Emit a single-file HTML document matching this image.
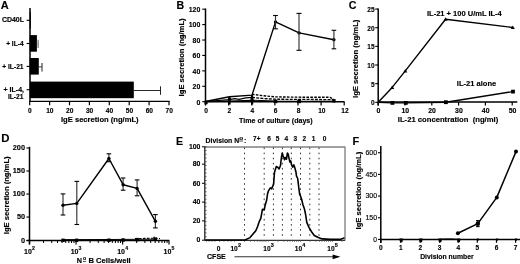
<!DOCTYPE html>
<html><head><meta charset="utf-8"><style>
html,body{margin:0;padding:0;background:#fff;overflow:hidden;width:520px;height:264px;}
svg{display:block;will-change:transform;}
text{font-family:"Liberation Sans", sans-serif;stroke:#000;stroke-width:0.14px;white-space:pre;}
</style></head><body>
<svg width="520" height="264" viewBox="0 0 520 264">
<rect width="520" height="264" fill="#fff"/>
<text x="0.80" y="9.30" font-size="11.0" font-weight="bold" text-anchor="start" fill="#000">A</text>
<text x="24.00" y="22.20" font-size="6.8" font-weight="bold" text-anchor="end" fill="#000" textLength="22.10" lengthAdjust="spacingAndGlyphs">CD40L</text>
<text x="23.60" y="45.90" font-size="6.7" font-weight="bold" text-anchor="end" fill="#000" textLength="17.40" lengthAdjust="spacingAndGlyphs">+ IL-4</text>
<text x="23.60" y="68.80" font-size="6.7" font-weight="bold" text-anchor="end" fill="#000" textLength="21.40" lengthAdjust="spacingAndGlyphs">+ IL-21</text>
<text x="24.00" y="92.20" font-size="6.5" font-weight="bold" text-anchor="end" fill="#000" textLength="20.40" lengthAdjust="spacingAndGlyphs">+ IL-4,</text>
<text x="23.50" y="98.80" font-size="6.5" font-weight="bold" text-anchor="end" fill="#000" textLength="15.60" lengthAdjust="spacingAndGlyphs">IL-21</text>
<rect x="29.80" y="12.00" width="1.00" height="16.60" fill="#000"/>
<rect x="29.80" y="35.10" width="7.10" height="16.60" fill="#000"/>
<rect x="29.80" y="58.00" width="9.00" height="16.60" fill="#000"/>
<rect x="29.80" y="81.60" width="104.00" height="16.60" fill="#000"/>
<line x1="36.90" y1="43.90" x2="38.30" y2="43.90" stroke="#777" stroke-width="0.9"/>
<line x1="38.20" y1="39.80" x2="38.20" y2="48.00" stroke="#999" stroke-width="1.6"/>
<line x1="38.80" y1="66.90" x2="42.00" y2="66.90" stroke="#222" stroke-width="0.9"/>
<line x1="42.00" y1="63.00" x2="42.00" y2="71.40" stroke="#444" stroke-width="1.2"/>
<line x1="133.80" y1="90.50" x2="160.50" y2="90.50" stroke="#111" stroke-width="0.9"/>
<line x1="160.50" y1="86.30" x2="160.50" y2="94.80" stroke="#222" stroke-width="1.0"/>
<line x1="30.00" y1="8.00" x2="30.00" y2="102.00" stroke="#000" stroke-width="1.5"/>
<line x1="26.60" y1="20.30" x2="30.00" y2="20.30" stroke="#000" stroke-width="1.1"/>
<line x1="26.60" y1="43.50" x2="30.00" y2="43.50" stroke="#000" stroke-width="1.1"/>
<line x1="26.60" y1="66.40" x2="30.00" y2="66.40" stroke="#000" stroke-width="1.1"/>
<line x1="26.60" y1="89.70" x2="30.00" y2="89.70" stroke="#000" stroke-width="1.1"/>
<line x1="29.30" y1="101.35" x2="169.60" y2="101.35" stroke="#000" stroke-width="1.3"/>
<line x1="29.70" y1="101.00" x2="29.70" y2="105.30" stroke="#000" stroke-width="1.2"/>
<text x="29.90" y="112.70" font-size="6.6" font-weight="bold" text-anchor="middle" fill="#000">0</text>
<line x1="49.60" y1="101.00" x2="49.60" y2="105.30" stroke="#000" stroke-width="1.2"/>
<text x="49.80" y="112.70" font-size="6.6" font-weight="bold" text-anchor="middle" fill="#000">10</text>
<line x1="69.50" y1="101.00" x2="69.50" y2="105.30" stroke="#000" stroke-width="1.2"/>
<text x="69.70" y="112.70" font-size="6.6" font-weight="bold" text-anchor="middle" fill="#000">20</text>
<line x1="89.40" y1="101.00" x2="89.40" y2="105.30" stroke="#000" stroke-width="1.2"/>
<text x="89.60" y="112.70" font-size="6.6" font-weight="bold" text-anchor="middle" fill="#000">30</text>
<line x1="109.30" y1="101.00" x2="109.30" y2="105.30" stroke="#000" stroke-width="1.2"/>
<text x="109.50" y="112.70" font-size="6.6" font-weight="bold" text-anchor="middle" fill="#000">40</text>
<line x1="129.20" y1="101.00" x2="129.20" y2="105.30" stroke="#000" stroke-width="1.2"/>
<text x="129.40" y="112.70" font-size="6.6" font-weight="bold" text-anchor="middle" fill="#000">50</text>
<line x1="149.10" y1="101.00" x2="149.10" y2="105.30" stroke="#000" stroke-width="1.2"/>
<text x="149.30" y="112.70" font-size="6.6" font-weight="bold" text-anchor="middle" fill="#000">60</text>
<line x1="169.00" y1="101.00" x2="169.00" y2="105.30" stroke="#000" stroke-width="1.2"/>
<text x="169.20" y="112.70" font-size="6.6" font-weight="bold" text-anchor="middle" fill="#000">70</text>
<text x="61.00" y="121.90" font-size="7.0" font-weight="bold" text-anchor="start" fill="#000" textLength="77.60" lengthAdjust="spacingAndGlyphs">IgE secretion (ng/mL)</text>
<text x="176.60" y="9.00" font-size="10.6" font-weight="bold" text-anchor="start" fill="#000">B</text>
<line x1="205.50" y1="8.50" x2="205.50" y2="105.00" stroke="#000" stroke-width="1.5"/>
<line x1="202.20" y1="101.70" x2="205.50" y2="101.70" stroke="#000" stroke-width="1.1"/>
<text x="200.30" y="104.50" font-size="7.1" font-weight="bold" text-anchor="end" fill="#000" textLength="3.85" lengthAdjust="spacingAndGlyphs">0</text>
<line x1="202.20" y1="86.28" x2="205.50" y2="86.28" stroke="#000" stroke-width="1.1"/>
<text x="200.30" y="89.08" font-size="7.1" font-weight="bold" text-anchor="end" fill="#000" textLength="7.70" lengthAdjust="spacingAndGlyphs">20</text>
<line x1="202.20" y1="70.86" x2="205.50" y2="70.86" stroke="#000" stroke-width="1.1"/>
<text x="200.30" y="73.66" font-size="7.1" font-weight="bold" text-anchor="end" fill="#000" textLength="7.70" lengthAdjust="spacingAndGlyphs">40</text>
<line x1="202.20" y1="55.44" x2="205.50" y2="55.44" stroke="#000" stroke-width="1.1"/>
<text x="200.30" y="58.24" font-size="7.1" font-weight="bold" text-anchor="end" fill="#000" textLength="7.70" lengthAdjust="spacingAndGlyphs">60</text>
<line x1="202.20" y1="40.02" x2="205.50" y2="40.02" stroke="#000" stroke-width="1.1"/>
<text x="200.30" y="42.82" font-size="7.1" font-weight="bold" text-anchor="end" fill="#000" textLength="7.70" lengthAdjust="spacingAndGlyphs">80</text>
<line x1="202.20" y1="24.60" x2="205.50" y2="24.60" stroke="#000" stroke-width="1.1"/>
<text x="200.30" y="27.40" font-size="7.1" font-weight="bold" text-anchor="end" fill="#000" textLength="11.55" lengthAdjust="spacingAndGlyphs">100</text>
<line x1="202.20" y1="9.18" x2="205.50" y2="9.18" stroke="#000" stroke-width="1.1"/>
<text x="200.30" y="11.98" font-size="7.1" font-weight="bold" text-anchor="end" fill="#000" textLength="11.55" lengthAdjust="spacingAndGlyphs">120</text>
<line x1="205.50" y1="101.70" x2="344.50" y2="101.70" stroke="#000" stroke-width="1.5"/>
<line x1="205.50" y1="101.70" x2="205.50" y2="105.60" stroke="#000" stroke-width="1.2"/>
<text x="206.20" y="113.20" font-size="6.6" font-weight="bold" text-anchor="middle" fill="#000">0</text>
<line x1="228.62" y1="101.70" x2="228.62" y2="105.60" stroke="#000" stroke-width="1.2"/>
<text x="229.32" y="113.20" font-size="6.6" font-weight="bold" text-anchor="middle" fill="#000">2</text>
<line x1="251.74" y1="101.70" x2="251.74" y2="105.60" stroke="#000" stroke-width="1.2"/>
<text x="252.44" y="113.20" font-size="6.6" font-weight="bold" text-anchor="middle" fill="#000">4</text>
<line x1="274.86" y1="101.70" x2="274.86" y2="105.60" stroke="#000" stroke-width="1.2"/>
<text x="275.56" y="113.20" font-size="6.6" font-weight="bold" text-anchor="middle" fill="#000">6</text>
<line x1="297.98" y1="101.70" x2="297.98" y2="105.60" stroke="#000" stroke-width="1.2"/>
<text x="298.68" y="113.20" font-size="6.6" font-weight="bold" text-anchor="middle" fill="#000">8</text>
<line x1="321.10" y1="101.70" x2="321.10" y2="105.60" stroke="#000" stroke-width="1.2"/>
<text x="321.80" y="113.20" font-size="6.6" font-weight="bold" text-anchor="middle" fill="#000">10</text>
<line x1="344.22" y1="101.70" x2="344.22" y2="105.60" stroke="#000" stroke-width="1.2"/>
<text x="344.92" y="113.20" font-size="6.6" font-weight="bold" text-anchor="middle" fill="#000">12</text>
<text x="239.10" y="123.30" font-size="7.4" font-weight="bold" text-anchor="start" fill="#000" textLength="73.60" lengthAdjust="spacingAndGlyphs">Time of culture (days)</text>
<text transform="translate(184.30,57.40) rotate(-90)" x="0" y="0" font-size="7.2" font-weight="bold" text-anchor="middle" textLength="78.00" lengthAdjust="spacingAndGlyphs">IgE secretion (ng/mL)</text>
<polyline points="252.00,94.20 262.00,95.60 275.50,96.90 299.10,97.20 330.00,97.30 334.00,99.50" fill="none" stroke="#000" stroke-width="1.35" stroke-linejoin="round" stroke-dasharray="2.6,1.3"/>
<polyline points="205.50,101.50 229.40,99.70 235.00,98.60 239.00,99.30 246.00,97.90 252.00,97.40" fill="none" stroke="#000" stroke-width="1.25" stroke-linejoin="round"/>
<polyline points="252.00,97.40 262.00,98.40 275.50,99.20 299.10,99.40 334.00,99.60" fill="none" stroke="#000" stroke-width="1.3" stroke-linejoin="round" stroke-dasharray="3,1.2"/>
<rect x="204.60" y="100.60" width="3.00" height="3.60" fill="#000"/>
<polyline points="205.50,101.60 229.40,101.00 252.00,100.20 275.50,101.00 299.10,101.20 334.00,101.30" fill="none" stroke="#000" stroke-width="1.1" stroke-linejoin="round"/>
<rect x="227.90" y="97.50" width="3.00" height="3.00" fill="#000"/>
<rect x="250.50" y="97.10" width="3.00" height="3.00" fill="#000"/>
<rect x="273.70" y="99.60" width="3.60" height="3.60" fill="#000"/>
<rect x="297.30" y="99.60" width="3.60" height="3.60" fill="#000"/>
<rect x="332.20" y="99.10" width="3.40" height="3.40" fill="#000"/>
<rect x="251.00" y="95.00" width="2.20" height="9.50" fill="#000"/>
<rect x="228.40" y="97.50" width="2.20" height="7.00" fill="#000"/>
<polyline points="205.50,101.50 229.40,96.80 252.00,95.10 275.50,21.90 299.10,32.90 333.90,39.70" fill="none" stroke="#000" stroke-width="1.4" stroke-linejoin="round"/>
<circle cx="275.50" cy="21.90" r="1.7" fill="#000"/>
<circle cx="299.10" cy="32.90" r="1.7" fill="#000"/>
<circle cx="333.90" cy="39.70" r="1.7" fill="#000"/>
<line x1="275.50" y1="15.50" x2="275.50" y2="28.80" stroke="#333" stroke-width="1.15"/>
<line x1="273.10" y1="15.50" x2="277.90" y2="15.50" stroke="#000" stroke-width="1.1"/>
<line x1="273.10" y1="28.80" x2="277.90" y2="28.80" stroke="#000" stroke-width="1.1"/>
<line x1="299.00" y1="13.40" x2="299.00" y2="50.30" stroke="#333" stroke-width="1.15"/>
<line x1="296.50" y1="13.40" x2="301.50" y2="13.40" stroke="#000" stroke-width="1.1"/>
<line x1="296.50" y1="50.30" x2="301.50" y2="50.30" stroke="#000" stroke-width="1.1"/>
<line x1="333.90" y1="30.30" x2="333.90" y2="48.80" stroke="#333" stroke-width="1.15"/>
<line x1="331.60" y1="30.30" x2="336.20" y2="30.30" stroke="#000" stroke-width="1.1"/>
<line x1="331.60" y1="48.80" x2="336.20" y2="48.80" stroke="#000" stroke-width="1.1"/>
<text x="348.80" y="9.40" font-size="10.7" font-weight="bold" text-anchor="start" fill="#000">C</text>
<line x1="378.20" y1="8.60" x2="378.20" y2="105.50" stroke="#000" stroke-width="1.5"/>
<line x1="375.20" y1="102.30" x2="378.20" y2="102.30" stroke="#000" stroke-width="1.1"/>
<text x="374.50" y="105.25" font-size="6.5" font-weight="bold" text-anchor="end" fill="#000">0</text>
<line x1="375.20" y1="83.65" x2="378.20" y2="83.65" stroke="#000" stroke-width="1.1"/>
<text x="374.50" y="86.60" font-size="6.5" font-weight="bold" text-anchor="end" fill="#000">5</text>
<line x1="375.20" y1="65.00" x2="378.20" y2="65.00" stroke="#000" stroke-width="1.1"/>
<text x="374.50" y="67.95" font-size="6.5" font-weight="bold" text-anchor="end" fill="#000">10</text>
<line x1="375.20" y1="46.35" x2="378.20" y2="46.35" stroke="#000" stroke-width="1.1"/>
<text x="374.50" y="49.30" font-size="6.5" font-weight="bold" text-anchor="end" fill="#000">15</text>
<line x1="375.20" y1="27.70" x2="378.20" y2="27.70" stroke="#000" stroke-width="1.1"/>
<text x="374.50" y="30.65" font-size="6.5" font-weight="bold" text-anchor="end" fill="#000">20</text>
<line x1="375.20" y1="9.05" x2="378.20" y2="9.05" stroke="#000" stroke-width="1.1"/>
<text x="374.50" y="12.00" font-size="6.5" font-weight="bold" text-anchor="end" fill="#000">25</text>
<line x1="378.20" y1="102.10" x2="517.30" y2="102.10" stroke="#000" stroke-width="1.5"/>
<line x1="378.20" y1="102.00" x2="378.20" y2="105.50" stroke="#000" stroke-width="1.2"/>
<text x="378.50" y="112.70" font-size="6.9" font-weight="bold" text-anchor="middle" fill="#000">0</text>
<line x1="405.00" y1="102.00" x2="405.00" y2="105.50" stroke="#000" stroke-width="1.2"/>
<text x="405.30" y="112.70" font-size="6.9" font-weight="bold" text-anchor="middle" fill="#000">10</text>
<line x1="431.80" y1="102.00" x2="431.80" y2="105.50" stroke="#000" stroke-width="1.2"/>
<text x="432.10" y="112.70" font-size="6.9" font-weight="bold" text-anchor="middle" fill="#000">20</text>
<line x1="458.60" y1="102.00" x2="458.60" y2="105.50" stroke="#000" stroke-width="1.2"/>
<text x="458.90" y="112.70" font-size="6.9" font-weight="bold" text-anchor="middle" fill="#000">30</text>
<line x1="485.40" y1="102.00" x2="485.40" y2="105.50" stroke="#000" stroke-width="1.2"/>
<text x="485.70" y="112.70" font-size="6.9" font-weight="bold" text-anchor="middle" fill="#000">40</text>
<line x1="512.20" y1="102.00" x2="512.20" y2="105.50" stroke="#000" stroke-width="1.2"/>
<text x="512.50" y="112.70" font-size="6.9" font-weight="bold" text-anchor="middle" fill="#000">50</text>
<text x="397.80" y="122.40" font-size="6.9" font-weight="bold" text-anchor="start" fill="#000" textLength="100.40" lengthAdjust="spacingAndGlyphs">IL-21 concentration  (ng/ml)</text>
<text transform="translate(358.20,58.80) rotate(-90)" x="0" y="0" font-size="7.2" font-weight="bold" text-anchor="middle" textLength="78.40" lengthAdjust="spacingAndGlyphs">IgE secretion (ng/mL)</text>
<polyline points="378.20,102.30 392.20,87.40 405.30,70.90 445.60,19.20 512.80,27.50" fill="none" stroke="#000" stroke-width="1.4" stroke-linejoin="round"/>
<path d="M390.20,88.90 L394.20,88.90 L392.20,85.40 Z" fill="#000"/>
<path d="M403.30,72.40 L407.30,72.40 L405.30,68.90 Z" fill="#000"/>
<path d="M443.60,20.70 L447.60,20.70 L445.60,17.20 Z" fill="#000"/>
<path d="M510.80,29.00 L514.80,29.00 L512.80,25.50 Z" fill="#000"/>
<polyline points="378.20,102.20 392.40,102.90 405.80,102.90 445.90,102.20 513.00,91.60" fill="none" stroke="#000" stroke-width="1.4" stroke-linejoin="round"/>
<rect x="390.50" y="101.00" width="3.80" height="3.80" fill="#000"/>
<rect x="403.90" y="101.00" width="3.80" height="3.80" fill="#000"/>
<rect x="444.00" y="100.30" width="3.80" height="3.80" fill="#000"/>
<rect x="511.10" y="89.70" width="3.80" height="3.80" fill="#000"/>
<text x="427.00" y="15.90" font-size="7.2" font-weight="bold" text-anchor="start" fill="#000" textLength="74.80" lengthAdjust="spacingAndGlyphs">IL-21 + 100 U/mL IL-4</text>
<text x="456.80" y="86.00" font-size="7.2" font-weight="bold" text-anchor="start" fill="#000" textLength="39.40" lengthAdjust="spacingAndGlyphs">IL-21 alone</text>
<text x="1.30" y="141.90" font-size="11.4" font-weight="bold" text-anchor="start" fill="#000">D</text>
<line x1="29.50" y1="146.80" x2="29.50" y2="244.40" stroke="#000" stroke-width="1.5"/>
<line x1="26.40" y1="240.50" x2="29.50" y2="240.50" stroke="#000" stroke-width="1.1"/>
<text x="25.00" y="242.90" font-size="7.3" font-weight="bold" text-anchor="end" fill="#000">0</text>
<line x1="26.40" y1="217.07" x2="29.50" y2="217.07" stroke="#000" stroke-width="1.1"/>
<text x="25.00" y="219.47" font-size="7.3" font-weight="bold" text-anchor="end" fill="#000">50</text>
<line x1="26.40" y1="194.05" x2="29.50" y2="194.05" stroke="#000" stroke-width="1.1"/>
<text x="25.00" y="196.45" font-size="7.3" font-weight="bold" text-anchor="end" fill="#000">100</text>
<line x1="26.40" y1="171.02" x2="29.50" y2="171.02" stroke="#000" stroke-width="1.1"/>
<text x="25.00" y="173.42" font-size="7.3" font-weight="bold" text-anchor="end" fill="#000">150</text>
<line x1="26.40" y1="148.00" x2="29.50" y2="148.00" stroke="#000" stroke-width="1.1"/>
<text x="25.00" y="150.40" font-size="7.3" font-weight="bold" text-anchor="end" fill="#000">200</text>
<line x1="26.50" y1="240.50" x2="169.30" y2="240.50" stroke="#000" stroke-width="1.55"/>
<line x1="29.50" y1="240.50" x2="29.50" y2="244.40" stroke="#000" stroke-width="1.2"/>
<line x1="43.52" y1="240.50" x2="43.52" y2="243.00" stroke="#000" stroke-width="1.0"/>
<line x1="51.72" y1="240.50" x2="51.72" y2="243.00" stroke="#000" stroke-width="1.0"/>
<line x1="57.54" y1="240.50" x2="57.54" y2="243.00" stroke="#000" stroke-width="1.0"/>
<line x1="62.05" y1="240.50" x2="62.05" y2="243.00" stroke="#000" stroke-width="1.0"/>
<line x1="65.74" y1="240.50" x2="65.74" y2="243.00" stroke="#000" stroke-width="1.0"/>
<line x1="68.86" y1="240.50" x2="68.86" y2="243.00" stroke="#000" stroke-width="1.0"/>
<line x1="71.56" y1="240.50" x2="71.56" y2="243.00" stroke="#000" stroke-width="1.0"/>
<line x1="73.94" y1="240.50" x2="73.94" y2="243.00" stroke="#000" stroke-width="1.0"/>
<text x="24.09" y="253.60" font-size="7.0" font-weight="bold" text-anchor="start" fill="#000">10</text>
<text x="32.02" y="250.30" font-size="5.2" font-weight="bold" text-anchor="start" fill="#000">2</text>
<line x1="76.07" y1="240.50" x2="76.07" y2="244.40" stroke="#000" stroke-width="1.2"/>
<line x1="90.09" y1="240.50" x2="90.09" y2="243.00" stroke="#000" stroke-width="1.0"/>
<line x1="98.29" y1="240.50" x2="98.29" y2="243.00" stroke="#000" stroke-width="1.0"/>
<line x1="104.11" y1="240.50" x2="104.11" y2="243.00" stroke="#000" stroke-width="1.0"/>
<line x1="108.62" y1="240.50" x2="108.62" y2="243.00" stroke="#000" stroke-width="1.0"/>
<line x1="112.31" y1="240.50" x2="112.31" y2="243.00" stroke="#000" stroke-width="1.0"/>
<line x1="115.43" y1="240.50" x2="115.43" y2="243.00" stroke="#000" stroke-width="1.0"/>
<line x1="118.13" y1="240.50" x2="118.13" y2="243.00" stroke="#000" stroke-width="1.0"/>
<line x1="120.51" y1="240.50" x2="120.51" y2="243.00" stroke="#000" stroke-width="1.0"/>
<text x="70.66" y="253.60" font-size="7.0" font-weight="bold" text-anchor="start" fill="#000">10</text>
<text x="78.59" y="250.30" font-size="5.2" font-weight="bold" text-anchor="start" fill="#000">3</text>
<line x1="122.64" y1="240.50" x2="122.64" y2="244.40" stroke="#000" stroke-width="1.2"/>
<line x1="136.66" y1="240.50" x2="136.66" y2="243.00" stroke="#000" stroke-width="1.0"/>
<line x1="144.86" y1="240.50" x2="144.86" y2="243.00" stroke="#000" stroke-width="1.0"/>
<line x1="150.68" y1="240.50" x2="150.68" y2="243.00" stroke="#000" stroke-width="1.0"/>
<line x1="155.19" y1="240.50" x2="155.19" y2="243.00" stroke="#000" stroke-width="1.0"/>
<line x1="158.88" y1="240.50" x2="158.88" y2="243.00" stroke="#000" stroke-width="1.0"/>
<line x1="162.00" y1="240.50" x2="162.00" y2="243.00" stroke="#000" stroke-width="1.0"/>
<line x1="164.70" y1="240.50" x2="164.70" y2="243.00" stroke="#000" stroke-width="1.0"/>
<line x1="167.08" y1="240.50" x2="167.08" y2="243.00" stroke="#000" stroke-width="1.0"/>
<text x="117.23" y="253.60" font-size="7.0" font-weight="bold" text-anchor="start" fill="#000">10</text>
<text x="125.16" y="250.30" font-size="5.2" font-weight="bold" text-anchor="start" fill="#000">4</text>
<line x1="169.00" y1="240.50" x2="169.00" y2="244.40" stroke="#000" stroke-width="1.2"/>
<text x="163.59" y="253.60" font-size="7.0" font-weight="bold" text-anchor="start" fill="#000">10</text>
<text x="171.52" y="250.30" font-size="5.2" font-weight="bold" text-anchor="start" fill="#000">5</text>
<text x="76.80" y="262.90" font-size="7.0" font-weight="bold" text-anchor="start" fill="#000" textLength="5.20" lengthAdjust="spacingAndGlyphs">N</text>
<text x="84.50" y="260.10" font-size="5.3" font-weight="bold" text-anchor="middle" fill="#000" textLength="3.20" lengthAdjust="spacingAndGlyphs">o</text>
<line x1="82.90" y1="261.40" x2="86.10" y2="261.40" stroke="#222" stroke-width="0.8"/>
<text x="88.50" y="262.90" font-size="7.0" font-weight="bold" text-anchor="start" fill="#000" textLength="42.20" lengthAdjust="spacingAndGlyphs">B Cells/well</text>
<text transform="translate(9.40,195.30) rotate(-90)" x="0" y="0" font-size="7.2" font-weight="bold" text-anchor="middle" textLength="77.70" lengthAdjust="spacingAndGlyphs">IgE secretion (ng/mL)</text>
<polyline points="135.00,238.60 145.00,238.40 155.40,238.20 160.00,238.60" fill="none" stroke="#000" stroke-width="1.1" stroke-linejoin="round" stroke-dasharray="2.5,1.5"/>
<polyline points="63.00,239.60 76.60,239.60 108.90,239.50 123.10,239.40 137.10,239.30 155.40,239.20" fill="none" stroke="#000" stroke-width="1.0" stroke-linejoin="round"/>
<rect x="61.30" y="238.60" width="3.40" height="3.40" fill="#000"/>
<rect x="74.90" y="238.60" width="3.40" height="3.40" fill="#000"/>
<rect x="107.20" y="238.50" width="3.40" height="3.40" fill="#000"/>
<rect x="121.40" y="238.30" width="3.40" height="3.40" fill="#000"/>
<rect x="135.40" y="237.90" width="3.40" height="3.40" fill="#000"/>
<rect x="153.70" y="237.50" width="3.40" height="3.40" fill="#000"/>
<rect x="153.50" y="236.60" width="1.20" height="2.50" fill="#000"/>
<line x1="63.00" y1="193.90" x2="63.00" y2="215.00" stroke="#333" stroke-width="1.15"/>
<line x1="60.70" y1="193.90" x2="65.30" y2="193.90" stroke="#000" stroke-width="1.1"/>
<line x1="60.70" y1="215.00" x2="65.30" y2="215.00" stroke="#000" stroke-width="1.1"/>
<line x1="76.80" y1="181.40" x2="76.80" y2="224.50" stroke="#333" stroke-width="1.15"/>
<line x1="74.50" y1="181.40" x2="79.10" y2="181.40" stroke="#000" stroke-width="1.1"/>
<line x1="74.50" y1="224.50" x2="79.10" y2="224.50" stroke="#000" stroke-width="1.1"/>
<line x1="108.90" y1="153.80" x2="108.90" y2="161.70" stroke="#333" stroke-width="1.15"/>
<line x1="106.60" y1="153.80" x2="111.20" y2="153.80" stroke="#000" stroke-width="1.1"/>
<line x1="106.60" y1="161.70" x2="111.20" y2="161.70" stroke="#000" stroke-width="1.1"/>
<line x1="123.10" y1="178.00" x2="123.10" y2="190.20" stroke="#333" stroke-width="1.15"/>
<line x1="120.80" y1="178.00" x2="125.40" y2="178.00" stroke="#000" stroke-width="1.1"/>
<line x1="120.80" y1="190.20" x2="125.40" y2="190.20" stroke="#000" stroke-width="1.1"/>
<line x1="137.10" y1="179.90" x2="137.10" y2="195.80" stroke="#333" stroke-width="1.15"/>
<line x1="134.80" y1="179.90" x2="139.40" y2="179.90" stroke="#000" stroke-width="1.1"/>
<line x1="134.80" y1="195.80" x2="139.40" y2="195.80" stroke="#000" stroke-width="1.1"/>
<line x1="155.40" y1="214.60" x2="155.40" y2="227.90" stroke="#333" stroke-width="1.15"/>
<line x1="153.10" y1="214.60" x2="157.70" y2="214.60" stroke="#000" stroke-width="1.1"/>
<line x1="153.10" y1="227.90" x2="157.70" y2="227.90" stroke="#000" stroke-width="1.1"/>
<polyline points="63.00,205.20 76.80,203.40 108.90,158.50 123.10,184.70 137.10,188.40 155.40,221.30" fill="none" stroke="#000" stroke-width="1.4" stroke-linejoin="round"/>
<circle cx="63.00" cy="205.20" r="1.7" fill="#000"/>
<circle cx="76.80" cy="203.40" r="1.7" fill="#000"/>
<circle cx="108.90" cy="158.50" r="1.7" fill="#000"/>
<circle cx="123.10" cy="184.70" r="1.7" fill="#000"/>
<circle cx="137.10" cy="188.40" r="1.7" fill="#000"/>
<circle cx="155.40" cy="221.30" r="1.7" fill="#000"/>
<text x="176.00" y="144.60" font-size="10.6" font-weight="bold" text-anchor="start" fill="#000">E</text>
<line x1="204.80" y1="146.95" x2="345.10" y2="146.95" stroke="#808080" stroke-width="1.5"/>
<line x1="345.00" y1="146.80" x2="345.00" y2="240.40" stroke="#858585" stroke-width="1.4"/>
<line x1="204.80" y1="146.80" x2="204.80" y2="240.40" stroke="#222" stroke-width="1.3"/>
<line x1="204.80" y1="240.40" x2="345.10" y2="240.40" stroke="#333" stroke-width="1.1"/>
<line x1="204.80" y1="146.80" x2="206.60" y2="146.80" stroke="#444" stroke-width="0.8"/>
<line x1="204.80" y1="150.54" x2="206.60" y2="150.54" stroke="#444" stroke-width="0.8"/>
<line x1="204.80" y1="154.29" x2="206.60" y2="154.29" stroke="#444" stroke-width="0.8"/>
<line x1="204.80" y1="158.03" x2="206.60" y2="158.03" stroke="#444" stroke-width="0.8"/>
<line x1="204.80" y1="161.78" x2="206.60" y2="161.78" stroke="#444" stroke-width="0.8"/>
<line x1="204.80" y1="165.52" x2="206.60" y2="165.52" stroke="#444" stroke-width="0.8"/>
<line x1="204.80" y1="169.26" x2="206.60" y2="169.26" stroke="#444" stroke-width="0.8"/>
<line x1="204.80" y1="173.01" x2="206.60" y2="173.01" stroke="#444" stroke-width="0.8"/>
<line x1="204.80" y1="176.75" x2="206.60" y2="176.75" stroke="#444" stroke-width="0.8"/>
<line x1="204.80" y1="180.50" x2="206.60" y2="180.50" stroke="#444" stroke-width="0.8"/>
<line x1="204.80" y1="184.24" x2="206.60" y2="184.24" stroke="#444" stroke-width="0.8"/>
<line x1="204.80" y1="187.98" x2="206.60" y2="187.98" stroke="#444" stroke-width="0.8"/>
<line x1="204.80" y1="191.73" x2="206.60" y2="191.73" stroke="#444" stroke-width="0.8"/>
<line x1="204.80" y1="195.47" x2="206.60" y2="195.47" stroke="#444" stroke-width="0.8"/>
<line x1="204.80" y1="199.22" x2="206.60" y2="199.22" stroke="#444" stroke-width="0.8"/>
<line x1="204.80" y1="202.96" x2="206.60" y2="202.96" stroke="#444" stroke-width="0.8"/>
<line x1="204.80" y1="206.70" x2="206.60" y2="206.70" stroke="#444" stroke-width="0.8"/>
<line x1="204.80" y1="210.45" x2="206.60" y2="210.45" stroke="#444" stroke-width="0.8"/>
<line x1="204.80" y1="214.19" x2="206.60" y2="214.19" stroke="#444" stroke-width="0.8"/>
<line x1="204.80" y1="217.94" x2="206.60" y2="217.94" stroke="#444" stroke-width="0.8"/>
<line x1="204.80" y1="221.68" x2="206.60" y2="221.68" stroke="#444" stroke-width="0.8"/>
<line x1="204.80" y1="225.42" x2="206.60" y2="225.42" stroke="#444" stroke-width="0.8"/>
<line x1="204.80" y1="229.17" x2="206.60" y2="229.17" stroke="#444" stroke-width="0.8"/>
<line x1="204.80" y1="232.91" x2="206.60" y2="232.91" stroke="#444" stroke-width="0.8"/>
<line x1="204.80" y1="236.66" x2="206.60" y2="236.66" stroke="#444" stroke-width="0.8"/>
<line x1="204.80" y1="240.40" x2="206.60" y2="240.40" stroke="#444" stroke-width="0.8"/>
<line x1="206.30" y1="240.40" x2="206.30" y2="241.90" stroke="#555" stroke-width="0.7"/>
<line x1="209.00" y1="240.40" x2="209.00" y2="241.90" stroke="#555" stroke-width="0.7"/>
<line x1="212.00" y1="240.40" x2="212.00" y2="241.90" stroke="#555" stroke-width="0.7"/>
<line x1="215.00" y1="240.40" x2="215.00" y2="241.90" stroke="#555" stroke-width="0.7"/>
<line x1="219.60" y1="240.40" x2="219.60" y2="241.90" stroke="#555" stroke-width="0.7"/>
<line x1="224.00" y1="240.40" x2="224.00" y2="241.90" stroke="#555" stroke-width="0.7"/>
<line x1="228.00" y1="240.40" x2="228.00" y2="241.90" stroke="#555" stroke-width="0.7"/>
<line x1="231.00" y1="240.40" x2="231.00" y2="241.90" stroke="#555" stroke-width="0.7"/>
<line x1="234.60" y1="240.40" x2="234.60" y2="241.90" stroke="#555" stroke-width="0.7"/>
<line x1="244.50" y1="240.40" x2="244.50" y2="241.90" stroke="#555" stroke-width="0.7"/>
<line x1="250.50" y1="240.40" x2="250.50" y2="241.90" stroke="#555" stroke-width="0.7"/>
<line x1="254.40" y1="240.40" x2="254.40" y2="241.90" stroke="#555" stroke-width="0.7"/>
<line x1="257.60" y1="240.40" x2="257.60" y2="241.90" stroke="#555" stroke-width="0.7"/>
<line x1="260.00" y1="240.40" x2="260.00" y2="241.90" stroke="#555" stroke-width="0.7"/>
<line x1="262.00" y1="240.40" x2="262.00" y2="241.90" stroke="#555" stroke-width="0.7"/>
<line x1="264.00" y1="240.40" x2="264.00" y2="241.90" stroke="#555" stroke-width="0.7"/>
<line x1="266.00" y1="240.40" x2="266.00" y2="241.90" stroke="#555" stroke-width="0.7"/>
<line x1="268.40" y1="240.40" x2="268.40" y2="241.90" stroke="#555" stroke-width="0.7"/>
<line x1="278.00" y1="240.40" x2="278.00" y2="241.90" stroke="#555" stroke-width="0.7"/>
<line x1="284.00" y1="240.40" x2="284.00" y2="241.90" stroke="#555" stroke-width="0.7"/>
<line x1="287.50" y1="240.40" x2="287.50" y2="241.90" stroke="#555" stroke-width="0.7"/>
<line x1="290.00" y1="240.40" x2="290.00" y2="241.90" stroke="#555" stroke-width="0.7"/>
<line x1="292.50" y1="240.40" x2="292.50" y2="241.90" stroke="#555" stroke-width="0.7"/>
<line x1="294.50" y1="240.40" x2="294.50" y2="241.90" stroke="#555" stroke-width="0.7"/>
<line x1="296.50" y1="240.40" x2="296.50" y2="241.90" stroke="#555" stroke-width="0.7"/>
<line x1="298.50" y1="240.40" x2="298.50" y2="241.90" stroke="#555" stroke-width="0.7"/>
<line x1="300.50" y1="240.40" x2="300.50" y2="241.90" stroke="#555" stroke-width="0.7"/>
<line x1="310.00" y1="240.40" x2="310.00" y2="241.90" stroke="#555" stroke-width="0.7"/>
<line x1="316.00" y1="240.40" x2="316.00" y2="241.90" stroke="#555" stroke-width="0.7"/>
<line x1="319.50" y1="240.40" x2="319.50" y2="241.90" stroke="#555" stroke-width="0.7"/>
<line x1="322.00" y1="240.40" x2="322.00" y2="241.90" stroke="#555" stroke-width="0.7"/>
<line x1="324.50" y1="240.40" x2="324.50" y2="241.90" stroke="#555" stroke-width="0.7"/>
<line x1="326.50" y1="240.40" x2="326.50" y2="241.90" stroke="#555" stroke-width="0.7"/>
<line x1="328.50" y1="240.40" x2="328.50" y2="241.90" stroke="#555" stroke-width="0.7"/>
<line x1="330.50" y1="240.40" x2="330.50" y2="241.90" stroke="#555" stroke-width="0.7"/>
<line x1="332.50" y1="240.40" x2="332.50" y2="241.90" stroke="#555" stroke-width="0.7"/>
<line x1="342.00" y1="240.40" x2="342.00" y2="241.90" stroke="#555" stroke-width="0.7"/>
<line x1="202.00" y1="240.20" x2="204.80" y2="240.20" stroke="#000" stroke-width="1.0"/>
<text x="200.40" y="242.40" font-size="6.9" font-weight="bold" text-anchor="end" fill="#000">0</text>
<line x1="202.00" y1="220.90" x2="204.80" y2="220.90" stroke="#000" stroke-width="1.0"/>
<text x="200.40" y="223.10" font-size="6.9" font-weight="bold" text-anchor="end" fill="#000">20</text>
<line x1="202.00" y1="202.10" x2="204.80" y2="202.10" stroke="#000" stroke-width="1.0"/>
<text x="200.40" y="204.30" font-size="6.9" font-weight="bold" text-anchor="end" fill="#000">40</text>
<line x1="202.00" y1="183.30" x2="204.80" y2="183.30" stroke="#000" stroke-width="1.0"/>
<text x="200.40" y="185.50" font-size="6.9" font-weight="bold" text-anchor="end" fill="#000">60</text>
<line x1="202.00" y1="164.20" x2="204.80" y2="164.20" stroke="#000" stroke-width="1.0"/>
<text x="200.40" y="166.40" font-size="6.9" font-weight="bold" text-anchor="end" fill="#000">80</text>
<line x1="202.00" y1="146.80" x2="204.80" y2="146.80" stroke="#000" stroke-width="1.0"/>
<text x="200.40" y="149.00" font-size="6.9" font-weight="bold" text-anchor="end" fill="#000">100</text>
<line x1="244.50" y1="147.50" x2="244.50" y2="238.50" stroke="#333" stroke-width="1.0" stroke-dasharray="1.6,3.5"/>
<line x1="264.20" y1="147.50" x2="264.20" y2="238.50" stroke="#333" stroke-width="1.0" stroke-dasharray="1.6,3.5"/>
<line x1="273.40" y1="147.50" x2="273.40" y2="238.50" stroke="#333" stroke-width="1.0" stroke-dasharray="1.6,3.5"/>
<line x1="282.40" y1="147.50" x2="282.40" y2="238.50" stroke="#333" stroke-width="1.0" stroke-dasharray="1.6,3.5"/>
<line x1="291.30" y1="147.50" x2="291.30" y2="238.50" stroke="#333" stroke-width="1.0" stroke-dasharray="1.6,3.5"/>
<line x1="300.50" y1="147.50" x2="300.50" y2="238.50" stroke="#333" stroke-width="1.0" stroke-dasharray="1.6,3.5"/>
<line x1="309.80" y1="147.50" x2="309.80" y2="238.50" stroke="#333" stroke-width="1.0" stroke-dasharray="1.6,3.5"/>
<line x1="319.00" y1="147.50" x2="319.00" y2="238.50" stroke="#333" stroke-width="1.0" stroke-dasharray="1.6,3.5"/>
<polyline points="205.30,240.00 245.00,240.00 250.00,237.60 255.80,230.80 257.50,226.70 259.20,221.70 260.80,218.30 261.70,213.30 262.50,209.20 264.20,210.00 265.00,205.80 266.70,200.00 267.50,194.00 268.50,190.70 270.40,187.90 271.70,188.80 273.60,184.10 274.50,172.30 276.30,166.60 277.70,167.20 279.10,168.90 280.50,165.50 281.40,157.50 282.30,153.00 283.10,156.40 283.90,157.50 284.50,159.80 285.30,157.50 286.50,159.20 287.40,153.00 288.20,154.10 289.10,158.60 289.90,162.00 290.70,160.90 291.60,164.90 292.70,167.20 293.90,164.90 294.80,167.70 295.90,171.70 296.50,176.20 297.70,178.50 298.30,183.60 299.00,189.30 299.70,194.40 300.50,196.10 301.70,199.50 303.00,205.00 304.40,208.80 305.60,214.50 306.80,222.40 309.10,227.60 311.70,232.00 314.30,235.50 317.80,237.20 322.10,238.90 330.80,239.40 339.60,239.40 343.00,238.40 344.50,237.60" fill="none" stroke="#000" stroke-width="1.6" stroke-linejoin="round"/>
<text x="205.60" y="142.90" font-size="7.0" font-weight="bold" text-anchor="start" fill="#000" textLength="33.60" lengthAdjust="spacingAndGlyphs">Division N</text>
<text x="241.10" y="140.00" font-size="5.6" font-weight="bold" text-anchor="middle" fill="#000" textLength="3.90" lengthAdjust="spacingAndGlyphs">o</text>
<line x1="239.10" y1="141.00" x2="243.00" y2="141.00" stroke="#222" stroke-width="0.8"/>
<text x="244.00" y="142.90" font-size="7.0" font-weight="bold" text-anchor="start" fill="#000">:</text>
<text x="256.80" y="140.80" font-size="6.5" font-weight="bold" text-anchor="middle" fill="#000">7+</text>
<text x="269.00" y="140.80" font-size="6.5" font-weight="bold" text-anchor="middle" fill="#000">6</text>
<text x="277.60" y="140.80" font-size="6.5" font-weight="bold" text-anchor="middle" fill="#000">5</text>
<text x="286.30" y="140.80" font-size="6.5" font-weight="bold" text-anchor="middle" fill="#000">4</text>
<text x="295.30" y="140.80" font-size="6.5" font-weight="bold" text-anchor="middle" fill="#000">3</text>
<text x="304.30" y="140.80" font-size="6.5" font-weight="bold" text-anchor="middle" fill="#000">2</text>
<text x="313.60" y="140.80" font-size="6.5" font-weight="bold" text-anchor="middle" fill="#000">1</text>
<text x="324.60" y="140.80" font-size="6.5" font-weight="bold" text-anchor="middle" fill="#000">0</text>
<text x="218.50" y="251.40" font-size="6.6" font-weight="bold" text-anchor="middle" fill="#000">0</text>
<text x="230.43" y="251.30" font-size="6.6" font-weight="bold" text-anchor="start" fill="#000">10</text>
<text x="237.92" y="247.30" font-size="5.5" font-weight="bold" text-anchor="start" fill="#000">2</text>
<text x="263.23" y="251.20" font-size="6.6" font-weight="bold" text-anchor="start" fill="#000">10</text>
<text x="270.72" y="247.20" font-size="5.5" font-weight="bold" text-anchor="start" fill="#000">3</text>
<text x="294.73" y="251.20" font-size="6.6" font-weight="bold" text-anchor="start" fill="#000">10</text>
<text x="302.22" y="247.20" font-size="5.5" font-weight="bold" text-anchor="start" fill="#000">4</text>
<text x="327.23" y="251.40" font-size="6.6" font-weight="bold" text-anchor="start" fill="#000">10</text>
<text x="334.72" y="247.40" font-size="5.5" font-weight="bold" text-anchor="start" fill="#000">5</text>
<text x="207.00" y="259.10" font-size="7.0" font-weight="bold" text-anchor="start" fill="#000" textLength="18.80" lengthAdjust="spacingAndGlyphs">CFSE</text>
<line x1="234.50" y1="256.80" x2="334.00" y2="256.80" stroke="#333" stroke-width="1.1"/>
<path d="M332.6,254.6 L340.4,256.8 L332.6,259.2 Z" fill="#000"/>
<text x="352.40" y="145.20" font-size="11.0" font-weight="bold" text-anchor="start" fill="#000">F</text>
<line x1="380.80" y1="146.10" x2="380.80" y2="243.00" stroke="#000" stroke-width="1.5"/>
<line x1="378.00" y1="239.40" x2="380.80" y2="239.40" stroke="#000" stroke-width="1.1"/>
<text x="377.10" y="241.80" font-size="6.7" font-weight="normal" text-anchor="end" fill="#000" stroke="#000" stroke-width="0.4">0</text>
<line x1="378.00" y1="217.73" x2="380.80" y2="217.73" stroke="#000" stroke-width="1.1"/>
<text x="377.10" y="220.13" font-size="6.7" font-weight="normal" text-anchor="end" fill="#000" textLength="11.60" lengthAdjust="spacingAndGlyphs" stroke="#000" stroke-width="0.4">150</text>
<line x1="378.00" y1="196.05" x2="380.80" y2="196.05" stroke="#000" stroke-width="1.1"/>
<text x="377.10" y="198.45" font-size="6.7" font-weight="normal" text-anchor="end" fill="#000" textLength="11.60" lengthAdjust="spacingAndGlyphs" stroke="#000" stroke-width="0.4">300</text>
<line x1="378.00" y1="174.38" x2="380.80" y2="174.38" stroke="#000" stroke-width="1.1"/>
<text x="377.10" y="176.78" font-size="6.7" font-weight="normal" text-anchor="end" fill="#000" textLength="11.60" lengthAdjust="spacingAndGlyphs" stroke="#000" stroke-width="0.4">450</text>
<line x1="378.00" y1="152.70" x2="380.80" y2="152.70" stroke="#000" stroke-width="1.1"/>
<text x="377.10" y="155.10" font-size="6.7" font-weight="normal" text-anchor="end" fill="#000" textLength="11.60" lengthAdjust="spacingAndGlyphs" stroke="#000" stroke-width="0.4">600</text>
<line x1="380.80" y1="239.40" x2="520.00" y2="239.40" stroke="#000" stroke-width="1.5"/>
<line x1="380.80" y1="239.40" x2="380.80" y2="242.80" stroke="#000" stroke-width="1.2"/>
<text x="380.80" y="249.70" font-size="6.5" font-weight="bold" text-anchor="middle" fill="#000">0</text>
<line x1="400.70" y1="239.40" x2="400.70" y2="242.80" stroke="#000" stroke-width="1.2"/>
<text x="400.70" y="249.70" font-size="6.5" font-weight="bold" text-anchor="middle" fill="#000">1</text>
<line x1="420.30" y1="239.40" x2="420.30" y2="242.80" stroke="#000" stroke-width="1.2"/>
<text x="420.30" y="249.70" font-size="6.5" font-weight="bold" text-anchor="middle" fill="#000">2</text>
<line x1="439.60" y1="239.40" x2="439.60" y2="242.80" stroke="#000" stroke-width="1.2"/>
<text x="439.60" y="249.70" font-size="6.5" font-weight="bold" text-anchor="middle" fill="#000">3</text>
<line x1="458.20" y1="239.40" x2="458.20" y2="242.80" stroke="#000" stroke-width="1.2"/>
<text x="458.20" y="249.70" font-size="6.5" font-weight="bold" text-anchor="middle" fill="#000">4</text>
<line x1="477.30" y1="239.40" x2="477.30" y2="242.80" stroke="#000" stroke-width="1.2"/>
<text x="477.30" y="249.70" font-size="6.5" font-weight="bold" text-anchor="middle" fill="#000">5</text>
<line x1="496.50" y1="239.40" x2="496.50" y2="242.80" stroke="#000" stroke-width="1.2"/>
<text x="496.50" y="249.70" font-size="6.5" font-weight="bold" text-anchor="middle" fill="#000">6</text>
<line x1="515.60" y1="239.40" x2="515.60" y2="242.80" stroke="#000" stroke-width="1.2"/>
<text x="515.60" y="249.70" font-size="6.5" font-weight="bold" text-anchor="middle" fill="#000">7</text>
<text x="420.20" y="259.20" font-size="6.8" font-weight="bold" text-anchor="start" fill="#000" textLength="53.40" lengthAdjust="spacingAndGlyphs">Division number</text>
<text transform="translate(361.00,190.60) rotate(-90)" x="0" y="0" font-size="7.2" font-weight="bold" text-anchor="middle" textLength="77.70" lengthAdjust="spacingAndGlyphs">IgE secretion (ng/mL)</text>
<path d="M399.30,238.40 L403.10,238.40 L402.40,242.20 L400.00,242.20 Z" fill="#000"/>
<path d="M418.90,238.40 L422.70,238.40 L422.00,242.20 L419.60,242.20 Z" fill="#000"/>
<path d="M438.20,238.40 L442.00,238.40 L441.30,242.20 L438.90,242.20 Z" fill="#000"/>
<path d="M456.80,238.40 L460.60,238.40 L459.90,242.20 L457.50,242.20 Z" fill="#000"/>
<path d="M476.66,238.40 L478.94,238.40 L478.52,240.68 L477.08,240.68 Z" fill="#000"/>
<path d="M495.86,238.40 L498.14,238.40 L497.72,240.68 L496.28,240.68 Z" fill="#000"/>
<path d="M514.96,238.40 L517.24,238.40 L516.82,240.68 L515.38,240.68 Z" fill="#000"/>
<polyline points="439.60,239.40 445.00,238.90 452.00,238.90 458.20,239.40" fill="none" stroke="#000" stroke-width="1.0" stroke-linejoin="round"/>
<line x1="477.80" y1="220.60" x2="477.80" y2="226.60" stroke="#333" stroke-width="1.15"/>
<line x1="476.00" y1="220.60" x2="479.60" y2="220.60" stroke="#000" stroke-width="1.1"/>
<line x1="476.00" y1="226.60" x2="479.60" y2="226.60" stroke="#000" stroke-width="1.1"/>
<polyline points="457.90,233.20 477.80,223.60 496.80,197.40 516.00,151.60" fill="none" stroke="#000" stroke-width="1.5" stroke-linejoin="round"/>
<circle cx="457.90" cy="233.20" r="2.0" fill="#000"/>
<circle cx="477.80" cy="223.60" r="2.0" fill="#000"/>
<circle cx="496.80" cy="197.40" r="2.0" fill="#000"/>
<circle cx="516.00" cy="151.60" r="2.0" fill="#000"/>
<rect x="475.90" y="221.80" width="3.80" height="3.80" fill="#000"/>
</svg>
</body></html>
